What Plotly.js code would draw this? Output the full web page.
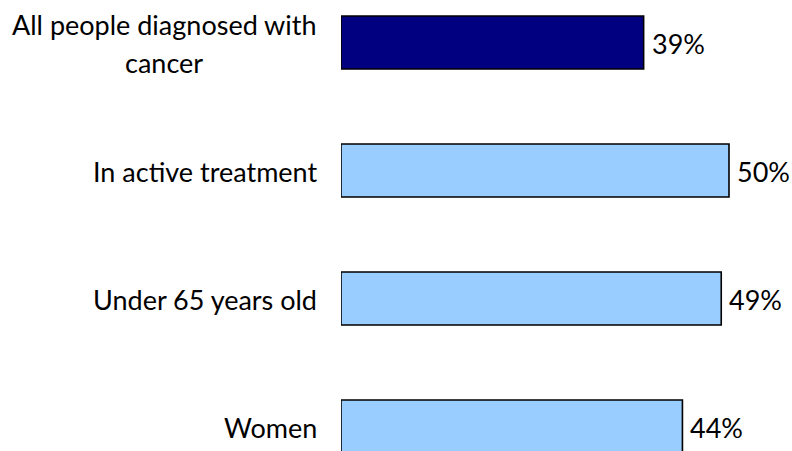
<!DOCTYPE html>
<html>
<head>
<meta charset="utf-8">
<script src="https://cdn.plot.ly/plotly-3.0.1.min.js"></script>
<style>
  html, body { margin: 0; padding: 0; background: #ffffff; }
  #chart { width: 792px; height: 451px; }
</style>
</head>
<body>
<div id="chart"></div>
<script>
// Share of each group (percent)
const groups = [
  "All people diagnosed with<br>cancer",
  "In active treatment",
  "Under 65 years old",
  "Women"
];
const shares = [39, 50, 49, 44];
const barColors = ["#000080", "#99CCFF", "#99CCFF", "#99CCFF"];

const labelFont = { family: "Lato, 'Noto Sans', sans-serif", size: 27, color: "#000000" };

const trace = {
  type: "bar",
  orientation: "h",
  x: shares,
  y: groups.map((_, i) => i),
  width: 0.414,
  marker: { color: barColors, line: { color: "#000000", width: 1.6 } },
  hoverinfo: "skip"
};

// Category names to the left of the bars; wrapped names get one
// centred line each, with a wide line pitch
const nameNotes = [];
groups.forEach((g, i) => {
  const lines = g.split("<br>");
  if (lines.length === 1) {
    nameNotes.push({
      xref: "paper", yref: "y", x: 0, y: i,
      xanchor: "right", yanchor: "middle", xshift: -22, yshift: -1,
      text: g, showarrow: false, font: labelFont
    });
  } else {
    const pitch = 38;
    lines.forEach((ln, k) => {
      nameNotes.push({
        xref: "paper", yref: "y", x: 0, y: i,
        xanchor: "center", yanchor: "middle", xshift: -177,
        yshift: ((lines.length - 1) / 2 - k) * pitch - 1,
        text: ln, showarrow: false, font: labelFont
      });
    });
  }
});

// Percent values just beyond the bar ends
const valueNotes = shares.map((v, i) => ({
  xref: "x", yref: "y",
  x: v, y: i,
  xanchor: "left", yanchor: "middle",
  xshift: 6, yshift: -1,
  text: v + "%",
  showarrow: false,
  font: labelFont
}));

const layout = {
  width: 792,
  height: 451,
  margin: { l: 341, r: 0, t: 0, b: 0, pad: 0 },
  paper_bgcolor: "#ffffff",
  plot_bgcolor: "#ffffff",
  showlegend: false,
  xaxis: {
    range: [0, 451 / 7.76],
    visible: false,
    fixedrange: true
  },
  yaxis: {
    range: [3.191, -0.332],
    visible: false,
    fixedrange: true
  },
  annotations: nameNotes.concat(valueNotes)
};

Plotly.newPlot("chart", [trace], layout, { displayModeBar: false, staticPlot: true });
</script>
</body>
</html>
